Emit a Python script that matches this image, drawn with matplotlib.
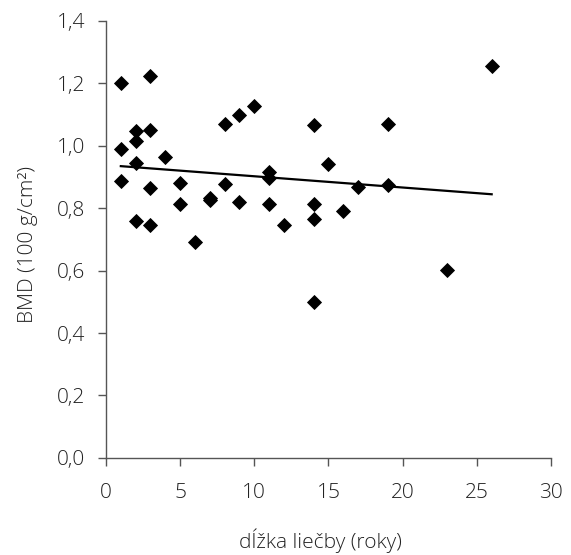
import numpy as np
import matplotlib.pyplot as plt

plt.rcParams["font.family"] = ["Open Sans", "DejaVu Sans"]
plt.rcParams["font.weight"] = "light"

# treatment duration (years) and BMD values
years = [1, 1, 1,
         2, 2, 2, 2,
         3, 3, 3, 3,
         4, 5, 5, 6, 7, 7,
         8, 8, 9, 9, 10,
         11, 11, 11, 12,
         14, 14, 14, 14,
         15, 16, 17, 19, 19, 23, 26]
bmd = [1.20, 0.99, 0.886,
       1.045, 1.014, 0.943, 0.759,
       1.222, 1.05, 0.863, 0.746,
       0.964, 0.879, 0.813, 0.692, 0.832, 0.825,
       1.069, 0.876, 1.098, 0.82, 1.127,
       0.915, 0.895, 0.812, 0.746,
       1.065, 0.812, 0.765, 0.50,
       0.941, 0.791, 0.868, 1.068, 0.874, 0.602, 1.255]

# trend line end points
trend_x = [1, 26]
trend_y = [0.934, 0.844]

x_ticks = [0, 5, 10, 15, 20, 25, 30]
y_ticks = [0.0, 0.2, 0.4, 0.6, 0.8, 1.0, 1.2, 1.4]

fig = plt.figure(figsize=(5.71, 5.55), dpi=100)
ax = fig.add_axes([0.1856, 0.1748, 0.7794, 0.7882])

ax.plot(trend_x, trend_y, color="black", lw=1.6, zorder=2)
ax.plot(years, bmd, linestyle="none", marker="D", markersize=7.3,
        markeredgewidth=0.6, color="black", zorder=3)

ax.set_xlim(0, 30)
ax.set_ylim(0, 1.4)
ax.set_xticks(x_ticks)
ax.set_yticks(y_ticks)
ax.set_xticklabels([str(t) for t in x_ticks])
ax.set_yticklabels([f"{t:.1f}".replace(".", ",") for t in y_ticks])

for s in ["top", "right"]:
    ax.spines[s].set_visible(False)
for s in ["left", "bottom"]:
    ax.spines[s].set_color("#555555")
    ax.spines[s].set_linewidth(1.0)

ax.tick_params(direction="out", length=5.8, width=1.0, color="#555555",
               labelsize=15, labelcolor="#222222")
ax.tick_params(axis="y", pad=9)
ax.tick_params(axis="x", pad=12)

fig.text(320 / 571, 1 - 541 / 555, "dĺžka liečby (roky)", fontsize=15,
         color="#222222", ha="center", va="center")
fig.text(28 / 571, 1 - 245 / 555, "BMD (100 g/cm²)", fontsize=15,
         color="#222222", ha="center", va="center", rotation=90)

fig.savefig("out.png", dpi=100)
